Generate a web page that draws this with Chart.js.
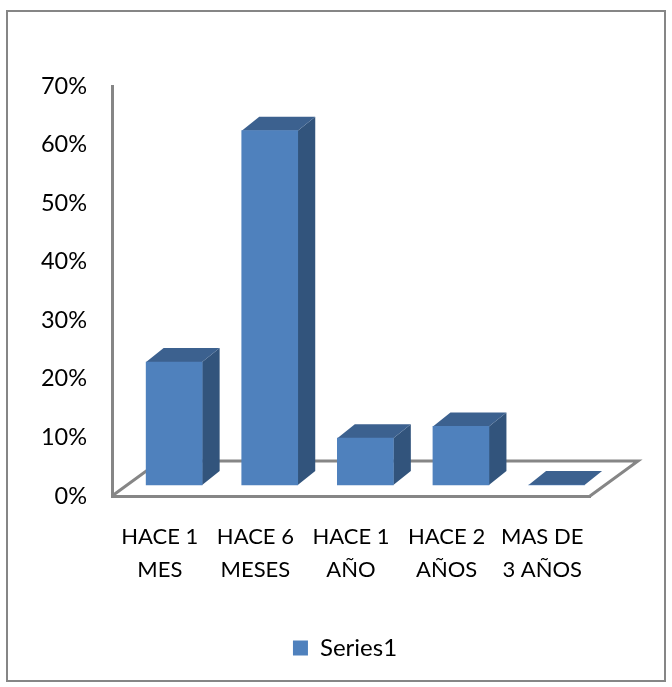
<!DOCTYPE html>
<html>
<head>
<meta charset="utf-8">
<title>Chart</title>
<script src="https://cdn.jsdelivr.net/npm/chart.js@4"></script>
<style>
  html, body { margin: 0; background: #fff; }
  canvas { display: block; }
</style>
</head>
<body>
<canvas id="myChart" width="672" height="687"></canvas>
<script>
const categories = [["HACE 1", "MES"], ["HACE 6", "MESES"], ["HACE 1", "AÑO"], ["HACE 2", "AÑOS"], ["MAS DE", "3 AÑOS"]];
const values = [21, 60.5, 8, 10, 0];
const seriesName = "Series1";

const FRONT = "#4f81bd";
const TOP = "#3c618f";
const SIDE = "#32547c";
const AXIS = "#868686";
const FONT = "Lato, Carlito, sans-serif";

// depth of the bars and of the floor (fake 3d)
const barDepth = { x: 17.5, y: 14 };
const floorDepth = { x: 48, y: 35 };

function fillPoly(ctx, pts, color) {
	ctx.fillStyle = color;
	ctx.beginPath();
	pts.forEach((p, i) => i ? ctx.lineTo(p[0], p[1]) : ctx.moveTo(p[0], p[1]));
	ctx.closePath();
	ctx.fill();
}

const fake3d = {
	id: "fake3d",
	beforeDraw(chart) {
		const ctx = chart.ctx;
		ctx.save();
		ctx.strokeStyle = AXIS;
		ctx.lineWidth = 2;
		ctx.strokeRect(7, 11, 658, 670);
		ctx.restore();
	},
	afterLayout(chart) {
		// legend is not centred on the canvas in the original
		chart.legend.left += 50;
		chart.legend.right += 50;
	},
	beforeDatasetsDraw(chart) {
		const ctx = chart.ctx;
		const a = chart.chartArea;
		ctx.save();
		ctx.strokeStyle = AXIS;
		ctx.lineWidth = 3;
		ctx.beginPath();
		ctx.moveTo(a.left, a.bottom);
		ctx.lineTo(a.left + floorDepth.x, a.bottom - floorDepth.y);
		ctx.lineTo(a.right + floorDepth.x, a.bottom - floorDepth.y);
		ctx.lineTo(a.right, a.bottom);
		ctx.stroke();
		chart.getDatasetMeta(0).data.forEach(bar => {
			const l = bar.x - bar.width / 2;
			const r = bar.x + bar.width / 2;
			const dx = barDepth.x;
			const dy = barDepth.y;
			fillPoly(ctx, [[r, bar.y], [r + dx, bar.y - dy], [r + dx, bar.base - dy], [r, bar.base]], SIDE);
			fillPoly(ctx, [[l, bar.y], [l + dx, bar.y - dy], [r + dx, bar.y - dy], [r, bar.y]], TOP);
		});
		ctx.restore();
	}
};

new Chart(document.getElementById("myChart"), {
	type: "bar",
	plugins: [fake3d],
	data: {
		labels: categories,
		datasets: [{
			label: seriesName,
			data: values.map((v, i) => ({ x: i, y: v })),
			backgroundColor: FRONT,
			barThickness: 56,
			xAxisID: "xBar",
			yAxisID: "yBar"
		}]
	},
	options: {
		responsive: false,
		animation: false,
		layout: { padding: { left: 0, top: 86, right: 82, bottom: 17 } },
		plugins: {
			tooltip: { enabled: false },
			legend: {
				position: "bottom",
				labels: {
					color: "#000",
					boxWidth: 15,
					boxHeight: 15,
					padding: 7,
					font: { family: FONT, size: 24 }
				}
			}
		},
		scales: {
			x: {
				type: "category",
				grid: { display: false },
				border: { display: true, color: AXIS, width: 3 },
				ticks: {
					color: "#000",
					padding: 16,
					maxRotation: 0,
					autoSkip: false,
					font: { family: FONT, size: 22, lineHeight: 1.5 }
				},
				afterFit(scale) { scale.height = 133; }
			},
			y: {
				type: "linear",
				min: 0,
				max: 70,
				grid: { display: false },
				border: { display: true, color: AXIS, width: 3 },
				ticks: {
					color: "#000",
					stepSize: 10,
					padding: 17,
					font: { family: FONT, size: 23.5 },
					callback: v => v + "%"
				},
				afterFit(scale) { scale.width = 112; }
			},
			// the bars stand in front of the axis plane, so they get their own scales
			xBar: { type: "linear", display: false, offset: false, min: -0.65, max: 4.35 },
			yBar: { type: "linear", display: false, min: -1.88, max: 68.12 }
		}
	}
});
</script>
</body>
</html>
